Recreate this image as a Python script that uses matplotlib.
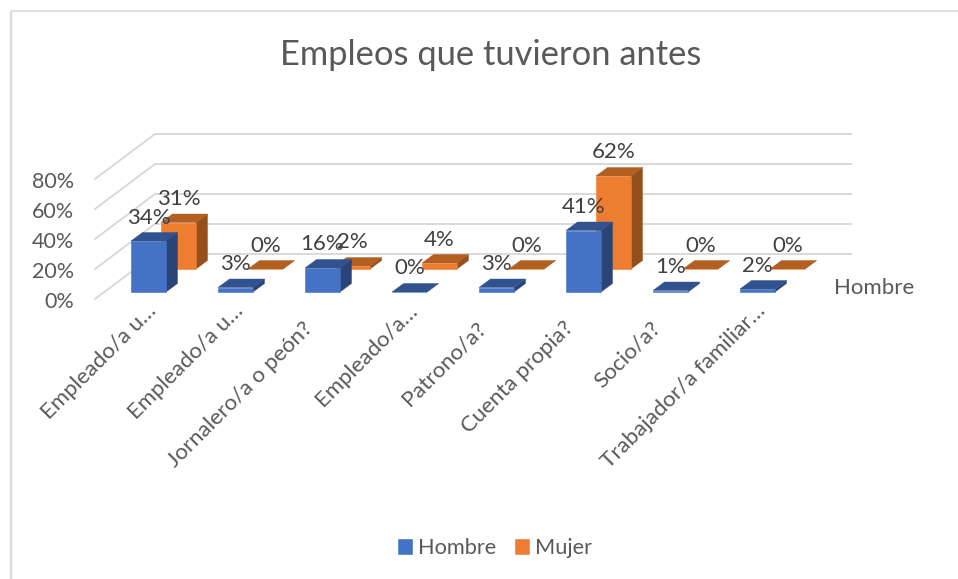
import matplotlib
matplotlib.use("Agg")
import matplotlib.pyplot as plt
from matplotlib.patches import Polygon

plt.rcParams['font.family'] = ['Lato', 'DejaVu Sans']

title = "Empleos que tuvieron antes"
categories = ["Empleado/a u…", "Empleado/a u…", "Jornalero/a o peón?", "Empleado/a…",
              "Patrono/a?", "Cuenta propia?", "Socio/a?", "Trabajador/a familiar…"]
hombre = [34, 3, 16, 0, 3, 41, 1, 2]
mujer = [31, 0, 2, 4, 0, 62, 0, 0]
ticks = [0, 20, 40, 60, 80]

W, H = 958, 579
X0, STEP, Y0, PCT = 131.0, 87.0, 292.0, 1.5

def ux(px):
    return (px - X0) / STEP

def uy(px):
    return (Y0 - px) / PCT

fig = plt.figure(figsize=(W / 100, H / 100), dpi=100, facecolor='white')
ax = fig.add_axes([0, 0, 1, 1])
ax.set_xlim(ux(0), ux(W))
ax.set_ylim(uy(H), uy(0))
ax.axis('off')

# chart frame
FRAME = '#D9D9D9'
ax.plot([ux(10.5), ux(10.5)], [uy(H), uy(10.5)], color=FRAME, lw=1.6, solid_capstyle='butt')
ax.plot([ux(10.5), ux(W)], [uy(10.5), uy(10.5)], color=FRAME, lw=1.2, solid_capstyle='butt')

# walls
front_x, back_x, end_x = ux(95), ux(155), ux(851)
front_shift, back_shift = uy(299), uy(254)
for t in ticks:
    ax.plot([front_x, back_x, end_x], [t + front_shift, t + back_shift, t + back_shift],
            color='#D9D9D9', lw=1.4, solid_joinstyle='miter', zorder=1)
    ax.text(ux(74), t + uy(301.5), f"{t}%", ha='right', va='center', fontsize=15.5, color='#595959')

WIDTH = 35 / STEP
ORANGE_DX = 30 / STEP
ORANGE_BASE = uy(269)
DX = 11.5 / STEP
DY = 8.5 / PCT
LABEL_UP = 23.5 / PCT


def draw_series(values, dx, base, front, top, side, z, label, text_color='#404040'):
    xs = [i + dx for i in range(len(values))]
    bars = ax.bar(xs, values, WIDTH, bottom=base, align='edge', color=front,
                  edgecolor=front, lw=0.4, zorder=z + 0.2, label=label)
    for x, v in zip(xs, values):
        yt = base + v
        ax.add_patch(Polygon([(x, yt), (x + WIDTH, yt), (x + WIDTH + DX, yt + DY), (x + DX, yt + DY)],
                             closed=True, fc=top, ec=top, lw=0.3, zorder=z + 0.1))
        ax.add_patch(Polygon([(x + WIDTH, base), (x + WIDTH + DX, base + DY), (x + WIDTH + DX, yt + DY), (x + WIDTH, yt)],
                             closed=True, fc=side, ec=side, lw=0.3, zorder=z))
        ax.text(x + WIDTH / 2, yt + LABEL_UP, f"{v}%", ha='center', va='center',
                fontsize=16, color=text_color, zorder=10)
    return bars


b_m = draw_series(mujer, ORANGE_DX, ORANGE_BASE, '#ED7D31', '#B25F22', '#94501B', 2, 'Mujer')
b_h = draw_series(hombre, 0, 0, '#4472C4', '#31528F', '#2A4478', 3, 'Hombre')

# category labels: truncated labels sit further along the diagonal than whole ones
for i, c in enumerate(categories):
    ax_px, ay_px = (146, 301) if c.endswith('…') else (128, 318)
    ax.text(i + ux(ax_px), uy(ay_px), c, rotation=45, rotation_mode='anchor', ha='right', va='top',
            fontsize=16, color='#595959')

# series axis label
ax.text(ux(874), uy(288), "Hombre", ha='center', va='center', fontsize=16, color='#595959')

# title
ax.text(ux(490.5), uy(55), title, ha='center', va='center', fontsize=24.8, color='#595959')

# legend
fig.legend(handles=[b_h, b_m], labels=['Hombre', 'Mujer'], ncol=2, frameon=False,
           loc='center', bbox_to_anchor=(495 / W, 1 - 548 / H), fontsize=15.7, labelcolor='#595959',
           handlelength=0.64, handleheight=0.64, handletextpad=0.27, columnspacing=0.9)

fig.savefig('out.png', dpi=100)
